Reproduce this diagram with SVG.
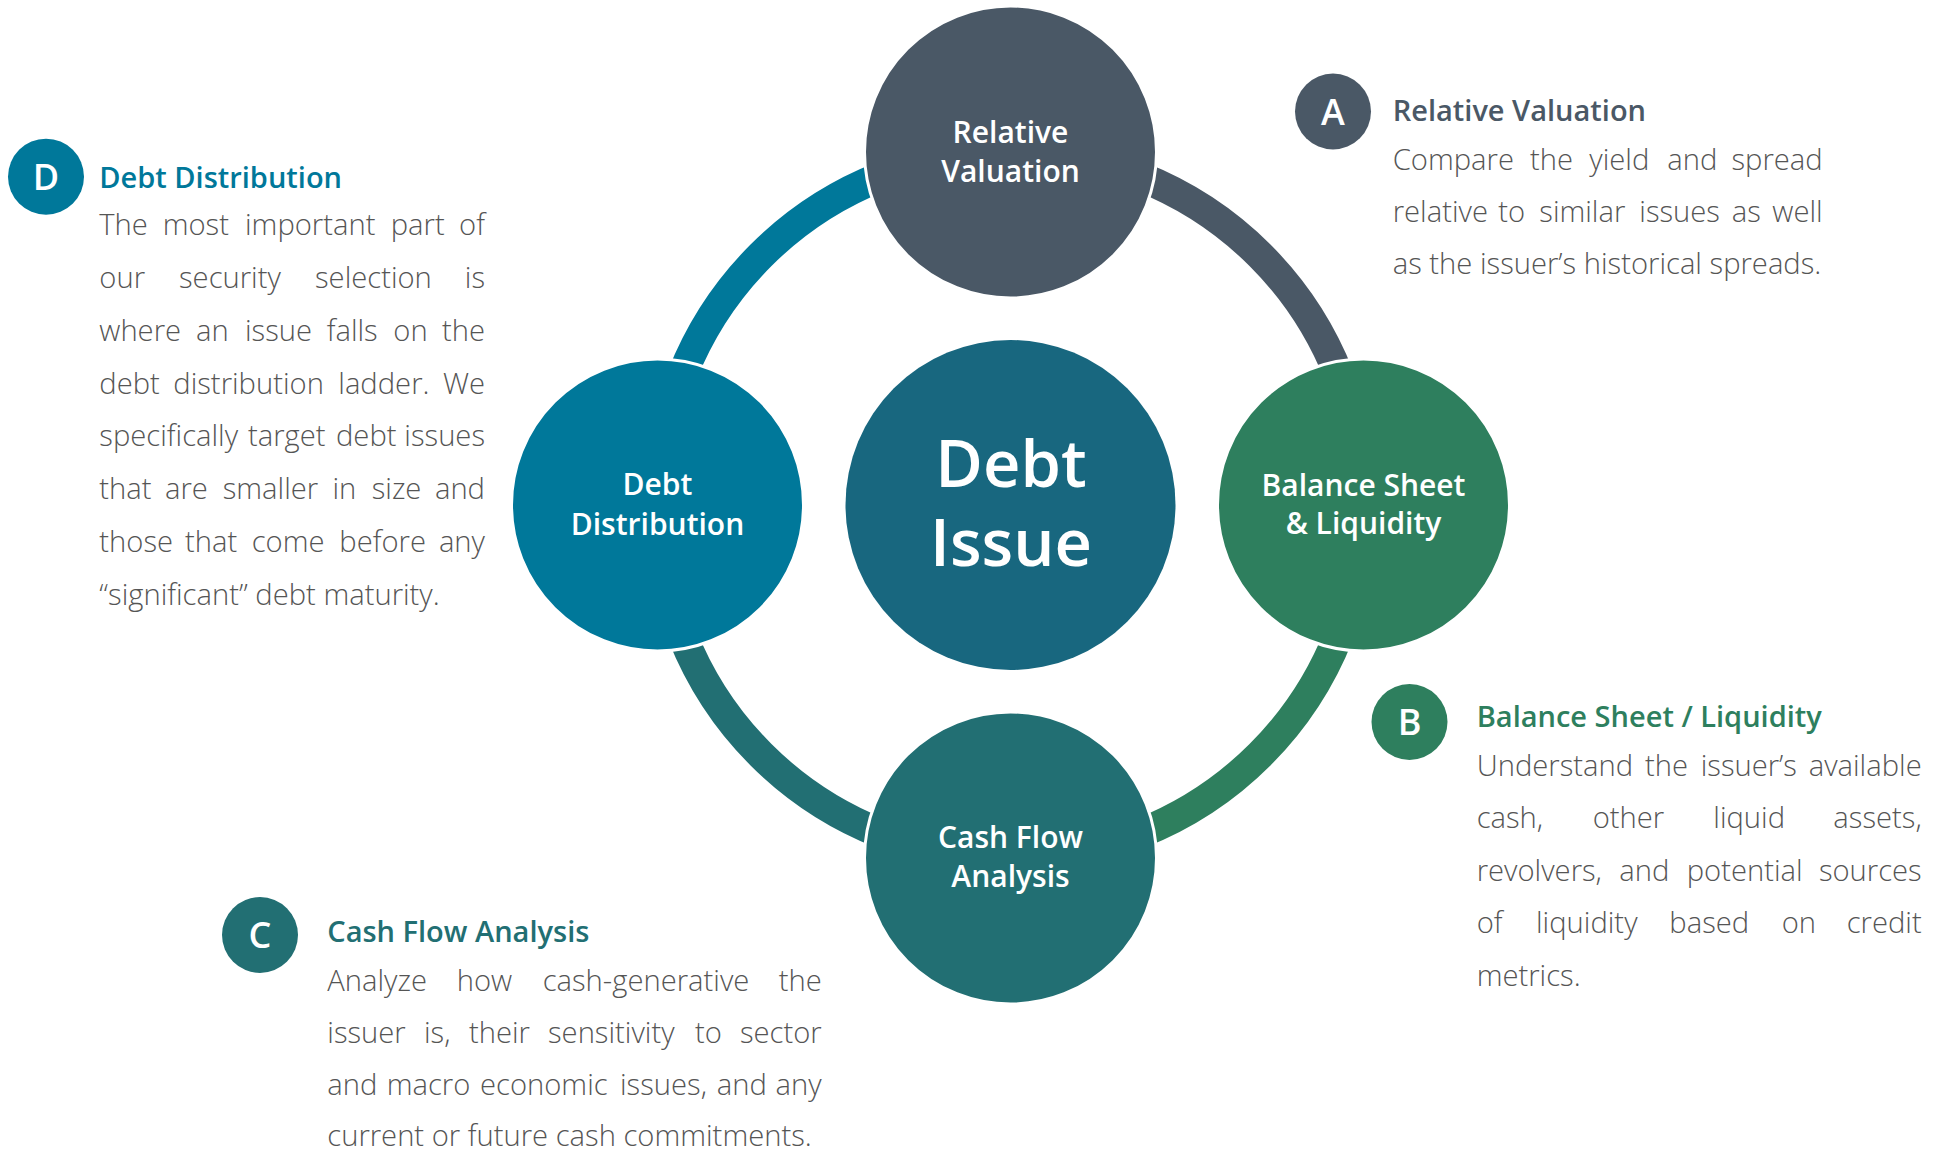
<svg xmlns="http://www.w3.org/2000/svg" width="1942" height="1152" viewBox="0 0 1942 1152">
<style>
  .lbl{font-family:"Open Sans","Noto Sans",sans-serif;font-weight:600;fill:#fff;text-anchor:middle}
  .sat{font-size:30px}
  .big{font-size:65px;font-weight:600}
  .badge{font-family:"Open Sans","Noto Sans",sans-serif;font-weight:600;font-size:36px;fill:#fff;text-anchor:middle}
  .hd{font-family:"Open Sans","Noto Sans",sans-serif;font-weight:600;font-size:29px}
  .bd{font-family:"Open Sans","Noto Sans",sans-serif;font-weight:300;font-size:29.2px;fill:#555}
  .e{text-anchor:end}
  .ring{fill:none;stroke-width:30}
  .satc{stroke:#fff;stroke-width:3}
  .cA{fill:#4A5866}.cB{fill:#2E7F5E}.cC{fill:#226F73}.cD{fill:#00789A}
</style>
<g id="connectors">
  <path class="ring" stroke="#00789A" d="M657.5,505 A353,353 0 0 1 1010.5,152"/>
  <path class="ring" stroke="#4A5866" d="M1010.5,152 A353,353 0 0 1 1363.5,505"/>
  <path class="ring" stroke="#2E7F5E" d="M1363.5,505 A353,353 0 0 1 1010.5,858"/>
  <path class="ring" stroke="#226F73" d="M1010.5,858 A353,353 0 0 1 657.5,505"/>
</g>
<g id="debt-issue">
  <circle cx="1010.5" cy="505" r="165" fill="#18677F"/>
  <text class="lbl big" x="1011" y="487">Debt</text>
  <text class="lbl big" x="1011" y="566">Issue</text>
</g>
<g id="relative-valuation">
  <circle class="satc cA" cx="1010.5" cy="152" r="146"/>
  <text class="lbl sat" x="1010.5" y="143">Relative</text>
  <text class="lbl sat" x="1010.5" y="182">Valuation</text>
</g>
<g id="balance-sheet">
  <circle class="satc cB" cx="1363.5" cy="505" r="146"/>
  <text class="lbl sat" x="1363.5" y="496">Balance Sheet</text>
  <text class="lbl sat" x="1363.5" y="534">&amp; Liquidity</text>
</g>
<g id="cash-flow">
  <circle class="satc cC" cx="1010.5" cy="858" r="146"/>
  <text class="lbl sat" x="1010.5" y="848">Cash Flow</text>
  <text class="lbl sat" x="1010.5" y="887">Analysis</text>
</g>
<g id="debt-distribution">
  <circle class="satc cD" cx="657.5" cy="505" r="146"/>
  <text class="lbl sat" x="657.5" y="495">Debt</text>
  <text class="lbl sat" x="657.5" y="535">Distribution</text>
</g>

<g id="note-a">
  <circle class="cA" cx="1333" cy="111.5" r="38"/>
  <text class="badge" x="1333" y="124.5">A</text>
  <text class="hd cA" x="1392.7" y="120.7">Relative Valuation</text>
  <text class="bd" y="169.5"><tspan x="1392.7">Compare</tspan><tspan x="1530">the</tspan><tspan x="1589.3">yield</tspan><tspan x="1667.3">and</tspan></text>
  <text class="bd e" x="1822.7" y="169.5">spread</text>
  <text class="bd" y="222"><tspan x="1392.7">relative</tspan><tspan x="1498.3">to</tspan><tspan x="1539.3">similar</tspan><tspan x="1639.3">issues</tspan><tspan x="1731.7">as</tspan></text>
  <text class="bd e" x="1822.7" y="222">well</text>
  <text class="bd" x="1392.7" y="274">as the issuer’s historical spreads.</text>
</g>

<g id="note-b">
  <circle class="cB" cx="1409.5" cy="722" r="38"/>
  <text class="badge" x="1409.5" y="735">B</text>
  <text class="hd cB" x="1476.7" y="726.7">Balance Sheet / Liquidity</text>
  <text class="bd" y="776"><tspan x="1476.7">Understand</tspan><tspan x="1645">the</tspan><tspan x="1700.7">issuer’s</tspan></text>
  <text class="bd e" x="1921.7" y="776">available</text>
  <text class="bd" y="828"><tspan x="1476.7">cash,</tspan><tspan x="1592.7">other</tspan><tspan x="1713.3">liquid</tspan></text>
  <text class="bd e" x="1921.7" y="828">assets,</text>
  <text class="bd" y="880.5"><tspan x="1476.7">revolvers,</tspan><tspan x="1619.3">and</tspan><tspan x="1686.7">potential</tspan></text>
  <text class="bd e" x="1921.7" y="880.5">sources</text>
  <text class="bd" y="933"><tspan x="1476.7">of</tspan><tspan x="1536">liquidity</tspan><tspan x="1669.3">based</tspan><tspan x="1781.7">on</tspan></text>
  <text class="bd e" x="1921.7" y="933">credit</text>
  <text class="bd" x="1476.7" y="985.5">metrics.</text>
</g>

<g id="note-c">
  <circle class="cC" cx="260" cy="935" r="38"/>
  <text class="badge" x="260" y="948">C</text>
  <text class="hd cC" x="327.3" y="941.7">Cash Flow Analysis</text>
  <text class="bd" y="990.7"><tspan x="327.3">Analyze</tspan><tspan x="456.7">how</tspan><tspan x="542.7">cash-generative</tspan></text>
  <text class="bd e" x="821.7" y="990.7">the</text>
  <text class="bd" y="1042.7"><tspan x="327.3">issuer</tspan><tspan x="424">is,</tspan><tspan x="469">their</tspan><tspan x="548">sensitivity</tspan><tspan x="695">to</tspan></text>
  <text class="bd e" x="821.7" y="1042.7">sector</text>
  <text class="bd" y="1094.5"><tspan x="327.3">and</tspan><tspan x="386.7">macro</tspan><tspan x="480">economic</tspan><tspan x="620">issues,</tspan><tspan x="716.7">and</tspan></text>
  <text class="bd e" x="821.7" y="1094.5">any</text>
  <text class="bd" x="327.3" y="1146">current or future cash commitments.</text>
</g>

<g id="note-d">
  <circle class="cD" cx="46" cy="176.7" r="38"/>
  <text class="badge" x="46" y="189.7">D</text>
  <text class="hd cD" x="99.3" y="188.3">Debt Distribution</text>
  <text class="bd" y="235"><tspan x="99.3">The</tspan><tspan x="162.7">most</tspan><tspan x="245">important</tspan><tspan x="390.7">part</tspan></text>
  <text class="bd e" x="485" y="235">of</text>
  <text class="bd" y="288"><tspan x="99.3">our</tspan><tspan x="179">security</tspan><tspan x="315">selection</tspan></text>
  <text class="bd e" x="485" y="288">is</text>
  <text class="bd" y="340.5"><tspan x="99.3">where</tspan><tspan x="196">an</tspan><tspan x="245">issue</tspan><tspan x="326.7">falls</tspan><tspan x="393.3">on</tspan></text>
  <text class="bd e" x="485" y="340.5">the</text>
  <text class="bd" y="393.5"><tspan x="99.3">debt</tspan><tspan x="173.3">distribution</tspan><tspan x="338.3">ladder.</tspan></text>
  <text class="bd e" x="485" y="393.5">We</text>
  <text class="bd" y="446"><tspan x="99.3">specifically</tspan><tspan x="248">target</tspan><tspan x="336">debt</tspan></text>
  <text class="bd e" x="485" y="446">issues</text>
  <text class="bd" y="499"><tspan x="99.3">that</tspan><tspan x="165">are</tspan><tspan x="222.7">smaller</tspan><tspan x="332.5">in</tspan><tspan x="371.7">size</tspan></text>
  <text class="bd e" x="485" y="499">and</text>
  <text class="bd" y="552"><tspan x="99.3">those</tspan><tspan x="185">that</tspan><tspan x="251.7">come</tspan><tspan x="339.3">before</tspan></text>
  <text class="bd e" x="485" y="552">any</text>
  <text class="bd" x="99.3" y="604.5">“significant” debt maturity.</text>
</g>
</svg>
